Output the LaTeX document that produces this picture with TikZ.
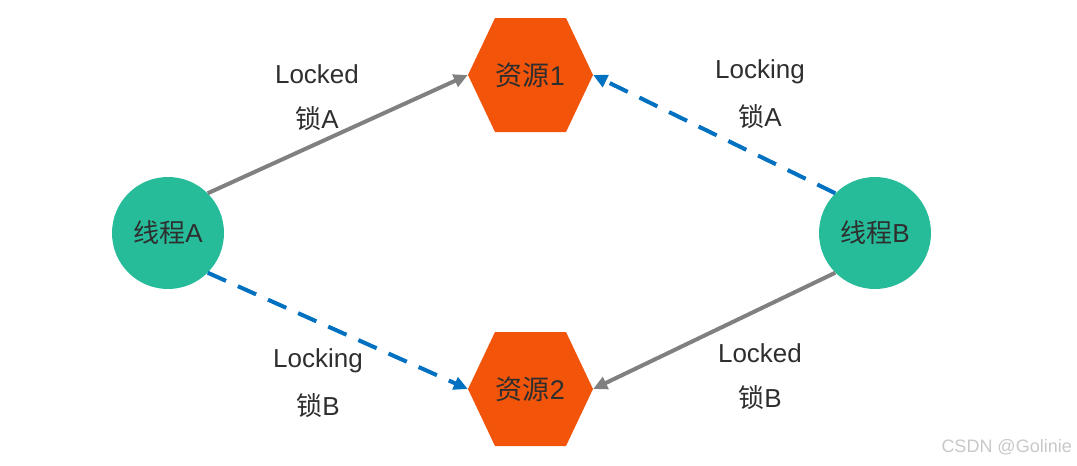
\documentclass[tikz,border=0pt]{standalone}
\usepackage{fontspec}
\setmainfont{Liberation Sans}
\newfontfamily\cjk{Noto Sans CJK SC}
\usetikzlibrary{arrows.meta,calc}
\definecolor{teal1}{HTML}{26BC9A}
\definecolor{orange1}{HTML}{F25409}
\definecolor{grayline}{HTML}{808080}
\definecolor{blueline}{HTML}{0070C0}
\definecolor{txt}{HTML}{2E2E2E}
\definecolor{wm}{HTML}{C8C8C8}
\tikzset{
  thread/.style={circle,fill=teal1,minimum size=112pt,inner sep=0pt,text=txt,font=\fontsize{26pt}{30pt}\selectfont},
  resource/.style={rectangle,minimum width=125pt,minimum height=114pt,inner sep=0pt,text=txt,
    font=\fontsize{27pt}{30pt}\selectfont,
    path picture={
      \fill[orange1] (path picture bounding box.west)
        -- ($(path picture bounding box.north west)!0.216!(path picture bounding box.north east)$)
        -- ($(path picture bounding box.north west)!0.784!(path picture bounding box.north east)$)
        -- (path picture bounding box.east)
        -- ($(path picture bounding box.south west)!0.784!(path picture bounding box.south east)$)
        -- ($(path picture bounding box.south west)!0.216!(path picture bounding box.south east)$)
        -- cycle;
    }},
  locked/.style={draw=grayline,line width=4pt,-{Triangle[length=14pt,width=13pt]}},
  locking/.style={draw=blueline,line width=4pt,dash pattern=on 20pt off 13pt,-{Triangle[length=14pt,width=13pt]}},
  lbl/.style={text=txt,font=\fontsize{26pt}{30pt}\selectfont,inner sep=0pt}
}
\begin{document}
\begin{tikzpicture}[x=1pt,y=-1pt]
\useasboundingbox (0,0) rectangle (1077,466);
\node[thread] (a) at (168,233) {{\cjk 线程}A};
\node[thread] (b) at (875,233) {{\cjk 线程}B};
\node[resource] (r1) at (530.5,75) {{\cjk 资源}1};
\node[resource] (r2) at (530.5,389) {{\cjk 资源}2};
\draw[locked] (a.45) -- (r1.west);
\draw[locking] (b.135) -- (r1.east);
\draw[locking] (a.-45) -- (r2.west);
\draw[locked] (b.225) -- (r2.east);
\node[lbl] (l1) at (317,74) {Locked};
\node[lbl] (l2) at (317,119) {{\cjk 锁}A};
\node[lbl] (l3) at (760,72) {Locking};
\node[lbl] (l4) at (760,117) {{\cjk 锁}A};
\node[lbl] (l5) at (318,361) {Locking};
\node[lbl] (l6) at (318,406) {{\cjk 锁}B};
\node[lbl] (l7) at (760,353) {Locked};
\node[lbl] (l8) at (760,398) {{\cjk 锁}B};
\node[text=wm,font=\fontsize{18pt}{21pt}\selectfont,anchor=east,inner sep=0pt] (wm) at (1072,447) {CSDN @Golinie};
\end{tikzpicture}
\end{document}
